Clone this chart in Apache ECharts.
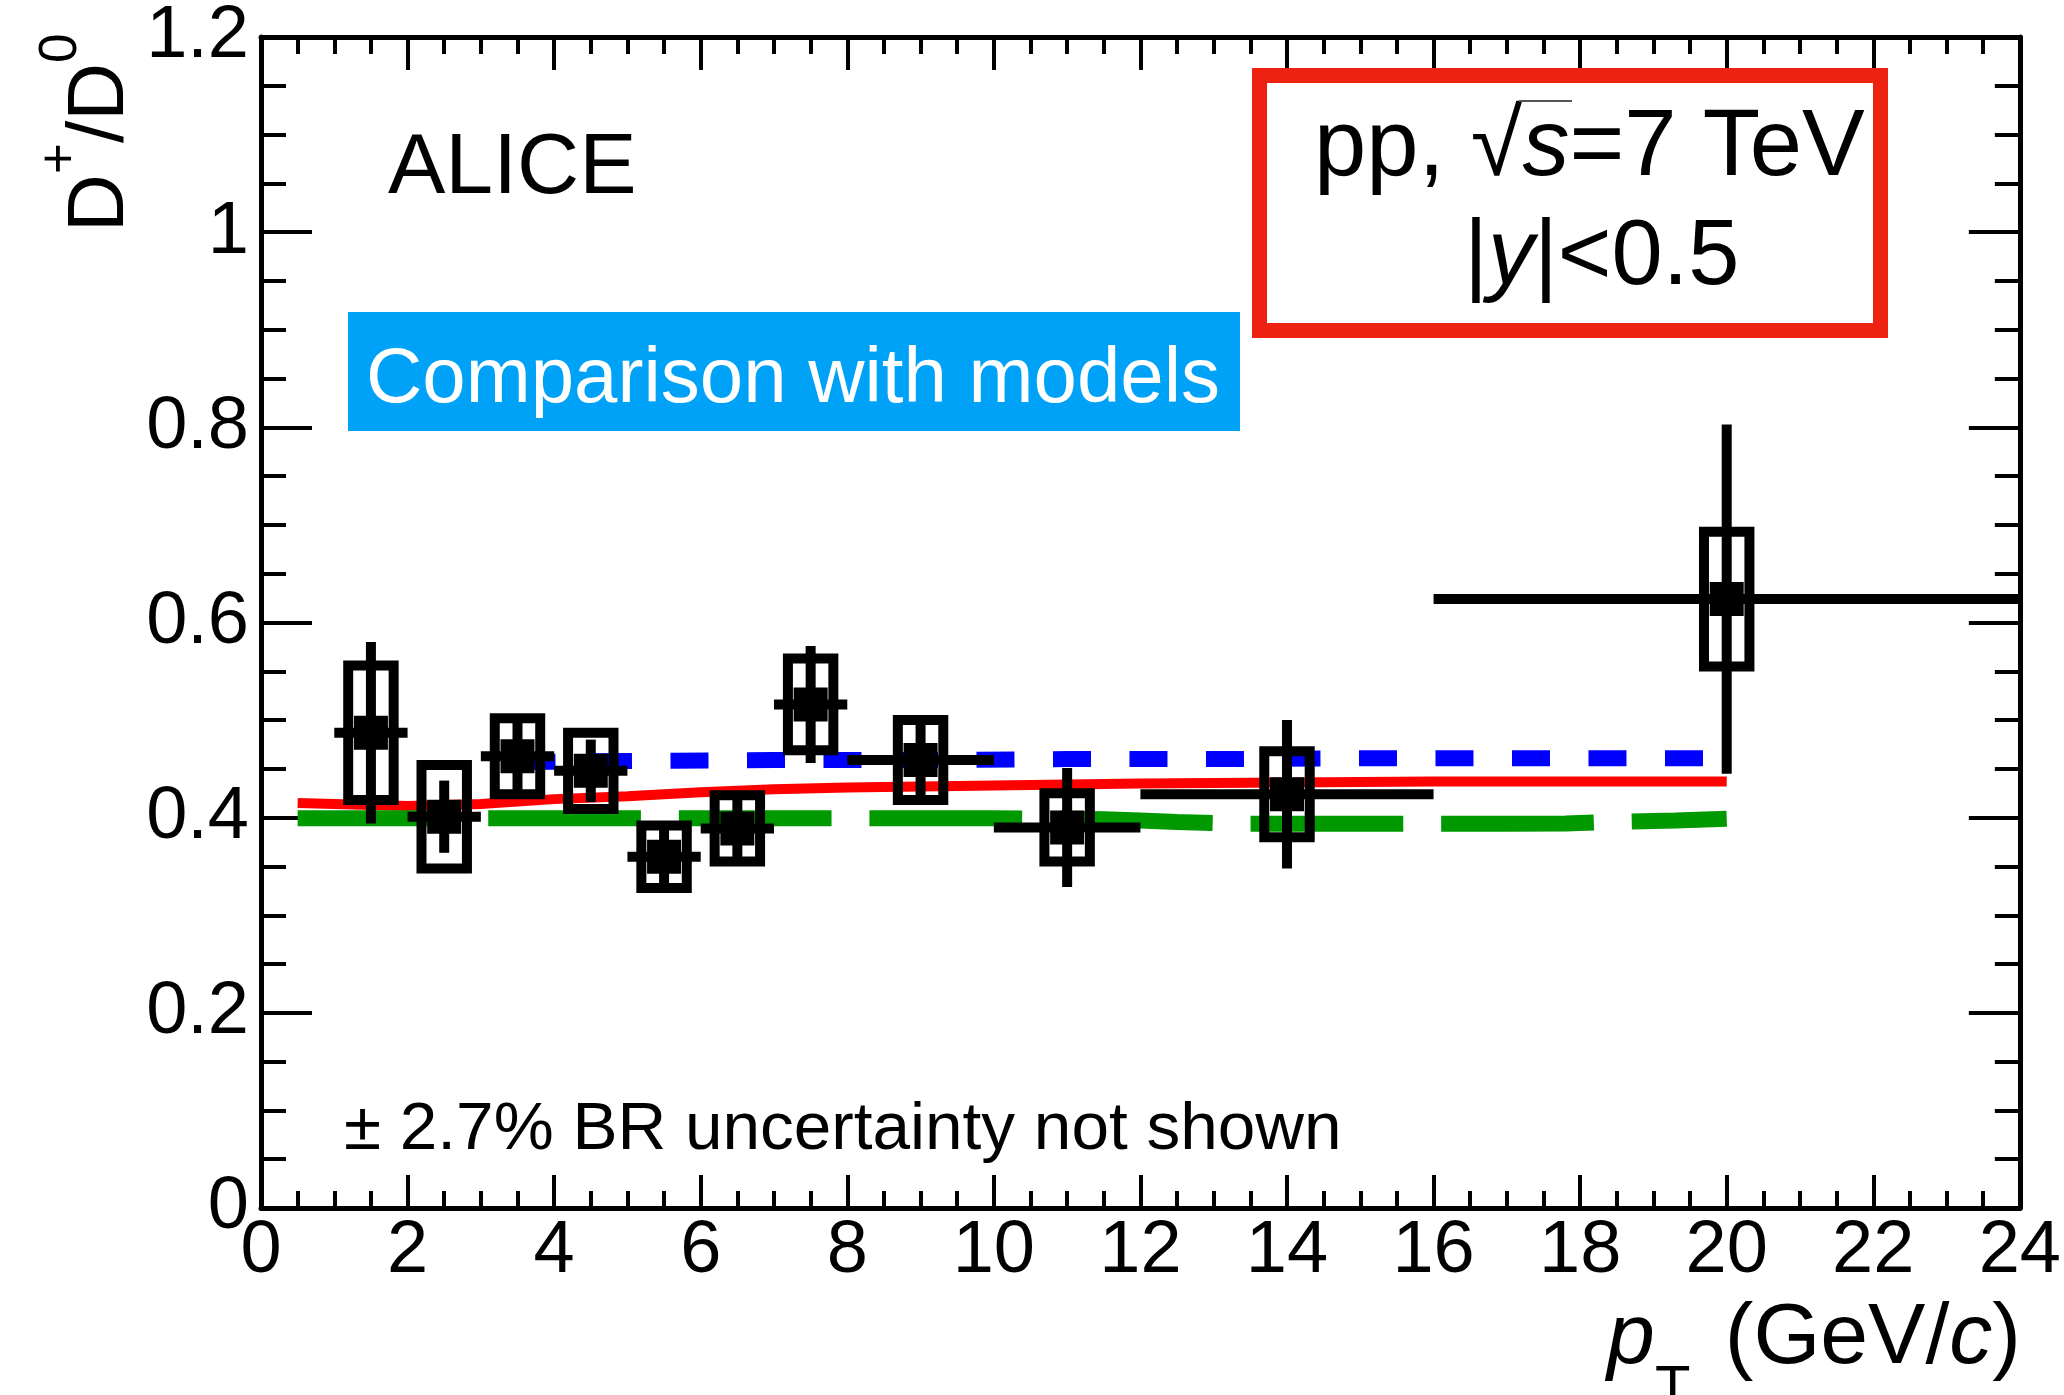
<!DOCTYPE html>
<html><head><meta charset="utf-8">
<script src="https://cdn.jsdelivr.net/npm/echarts@6/dist/echarts.min.js"></script>
<style>html,body{margin:0;padding:0;background:#fff}#c{width:2064px;height:1395px}</style>
</head><body><div id="c"></div>
<script>
// ---------- data ----------
const ptCenter = [1.5, 2.5, 3.5, 4.5, 5.5, 6.5, 7.5, 9, 11, 14, 20];
const ptLow    = [1, 2, 3, 4, 5, 6, 7, 8, 10, 12, 16];
const ptHigh   = [2, 3, 4, 5, 6, 7, 8, 10, 12, 16, 24];
const ratio    = [0.487, 0.401, 0.463, 0.448, 0.360, 0.389, 0.516, 0.459, 0.390, 0.424, 0.624];
const statErr  = [0.093, 0.037, 0.038, 0.032, 0.031, 0.033, 0.060, 0.046, 0.061, 0.076, 0.179];
const sysErr   = [0.069, 0.053, 0.039, 0.039, 0.032, 0.034, 0.047, 0.041, 0.035, 0.044, 0.069];

const redPt  = [0.5, 1, 1.5, 2, 3, 4, 5, 6, 7, 8, 9, 10, 12, 14, 16, 18, 20];
const redY   = [0.415, 0.414, 0.413, 0.412, 0.414, 0.419, 0.422, 0.426, 0.429, 0.431, 0.432, 0.433, 0.435, 0.436, 0.437, 0.437, 0.437];
const bluePt = [3.5, 5, 7, 9, 11, 13, 15, 17, 19, 20];
const blueY  = [0.457, 0.458, 0.459, 0.459, 0.460, 0.460, 0.461, 0.461, 0.461, 0.461];
const greenPt = [0.5, 2, 4, 6, 8, 10, 11, 11.5, 12, 12.5, 13, 13.5, 15, 17, 17.8, 18.2, 18.7, 19.3, 20];
const greenY  = [0.3993, 0.3993, 0.3993, 0.3993, 0.3993, 0.3993, 0.399, 0.3985, 0.397, 0.3955, 0.3945, 0.3937, 0.3937, 0.3937, 0.394, 0.3952, 0.396, 0.397, 0.3988];

const xTicks = [0, 2, 4, 6, 8, 10, 12, 14, 16, 18, 20, 22, 24];
const yTicks = [0, 0.2, 0.4, 0.6, 0.8, 1, 1.2];

// ---------- styling ----------
const FONT = "'Liberation Sans', Arial, Helvetica, sans-serif";
const BOX_HW = 0.31; // half width of systematic boxes in pT units

const chart = echarts.init(document.getElementById('c'), null, {renderer: 'canvas'});

function axisCommon(isX, showLabel) {
  return {
    type: 'value',
    min: isX ? xTicks[0] : yTicks[0],
    max: isX ? xTicks[xTicks.length - 1] : yTicks[yTicks.length - 1],
    interval: isX ? (xTicks[1] - xTicks[0]) : (yTicks[1] - yTicks[0]),
    axisLine: {show: true, onZero: false, lineStyle: {color: '#000', width: 5}},
    axisTick: {show: true, inside: true, length: isX ? 33 : 51, lineStyle: {color: '#000', width: 4}},
    minorTick: {show: true, splitNumber: 4, length: isX ? 17 : 25, lineStyle: {color: '#000', width: 4}},
    splitLine: {show: false},
    minorSplitLine: {show: false},
    axisLabel: {
      show: showLabel, color: '#000', fontFamily: FONT, fontSize: 74,
      margin: isX ? 7 : 12, showMinLabel: true, showMaxLabel: true,
      padding: isX ? 0 : [10, 0, 0, 0]
    }
  };
}

const xMain = Object.assign(axisCommon(true, true), {position: 'bottom'});
const xTop = Object.assign(axisCommon(true, false), {position: 'top'});
const yMain = Object.assign(axisCommon(false, true), {position: 'left'});
const yRight = Object.assign(axisCommon(false, false), {position: 'right'});

function pairs(xs, ys) { return xs.map((x, i) => [x, ys[i]]); }

function T(x, y, text, size, extra) {
  return {
    type: 'text', x: x, y: y, z: 100,
    style: Object.assign({
      text: text, fontSize: size, fontFamily: FONT, fill: '#000',
      align: 'left', verticalAlign: 'middle', textAlign: 'left', textVerticalAlign: 'middle'
    }, extra || {})
  };
}
// baseline -> middle y
function mid(baseline, size) { return baseline - 0.28 * size; }

const graphics = [
  // ALICE
  T(388, mid(193, 86), 'ALICE', 86),
  // blue label box
  {type: 'rect', z: 90, shape: {x: 348, y: 312, width: 892, height: 119}, style: {fill: '#00a2f7'}},
  T(366, mid(402, 78), 'Comparison with models', 78, {fill: '#fff'}),
  // red box
  {type: 'rect', z: 90, shape: {x: 1259.5, y: 75.5, width: 621, height: 255}, style: {fill: '#fff', stroke: '#ee2211', lineWidth: 15}},
  T(1314, mid(175, 94), '{a|pp, }{a|\u221A}{i|s}{a|=7 TeV}', 94, {
    rich: {
      a: {fontSize: 94, fontFamily: FONT, fill: '#000'},
      i: {fontSize: 94, fontFamily: FONT, fontStyle: 'italic', fill: '#000'}
    }
  }),
  {type: 'line', z: 101, shape: {x1: 1519, y1: 101, x2: 1572, y2: 101}, style: {stroke: '#555', lineWidth: 2}},
  T(1464, mid(284, 92), '{a||}{i|y}{a||<0.5}', 92, {
    rich: {
      a: {fontSize: 92, fontFamily: FONT, fill: '#000'},
      i: {fontSize: 92, fontFamily: FONT, fontStyle: 'italic', fill: '#000'}
    }
  }),
  // BR note
  T(344, mid(1149, 67.5), '\u00B1 2.7% BR uncertainty not shown', 67.5),
  // x title
  T(1607, mid(1363, 86), 'p', 86, {fontStyle: 'italic'}),
  T(1655, mid(1406, 58), 'T', 58),
  T(2021, mid(1363, 86), '{a|(GeV/}{i|c}{a|)}', 86, {
    align: 'right', textAlign: 'right',
    rich: {
      a: {fontSize: 86, fontFamily: FONT, fill: '#000'},
      i: {fontSize: 86, fontFamily: FONT, fontStyle: 'italic', fill: '#000'}
    }
  }),
  // y title (rotated)
  {
    type: 'group', x: 123, y: 232, rotation: Math.PI / 2, z: 100,
    children: [
      T(0, -0.28 * 80, 'D', 80),
      T(58, -47 - 0.28 * 53, '+', 53),
      T(89, -0.28 * 80, '/D', 80),
      T(169, -47 - 0.28 * 53, '0', 53)
    ]
  }
];

const option = {
  backgroundColor: '#fff',
  animation: false,
  grid: {left: 261, top: 35, right: 41, bottom: 187, containLabel: false},
  xAxis: [xMain, xTop],
  yAxis: [yMain, yRight],
  graphic: graphics,
  series: [
    {
      type: 'line', name: 'red', data: pairs(redPt, redY), xAxisIndex: 0, yAxisIndex: 0,
      showSymbol: false, symbol: 'none', z: 3,
      lineStyle: {color: '#ff0000', width: 10, cap: 'butt'}
    },
    {
      type: 'line', name: 'blue', data: pairs(bluePt, blueY), xAxisIndex: 0, yAxisIndex: 0,
      showSymbol: false, symbol: 'none', z: 3,
      lineStyle: {color: '#0000ff', width: 16, type: [38, 38.5], cap: 'butt'}
    },
    {
      type: 'line', name: 'green', data: pairs(greenPt, greenY), xAxisIndex: 0, yAxisIndex: 0,
      showSymbol: false, symbol: 'none', z: 3,
      lineStyle: {color: '#009900', width: 16, type: [152.7, 37.9], cap: 'butt'}
    },
    {
      type: 'custom', name: 'data', xAxisIndex: 0, yAxisIndex: 0, z: 10, clip: false,
      data: ptCenter.map((x, i) => [x, ratio[i], ptLow[i], ptHigh[i], statErr[i], sysErr[i]]),
      encode: {x: 0, y: 1},
      renderItem: function (params, api) {
        const x = api.value(0), y = api.value(1), xl = api.value(2), xh = api.value(3);
        const st = api.value(4), sy = api.value(5);
        const pL = api.coord([xl, y]), pH = api.coord([xh, y]);
        const sT = api.coord([x, y + st]), sB = api.coord([x, y - st]);
        const b1 = api.coord([x - BOX_HW, y + sy]), b2 = api.coord([x + BOX_HW, y - sy]);
        const c = api.coord([x, y]);
        const blk = {stroke: '#000', lineWidth: 10, fill: 'none'};
        return {
          type: 'group', children: [
            {type: 'line', shape: {x1: pL[0], y1: pL[1], x2: pH[0], y2: pH[1]}, style: blk},
            {type: 'line', shape: {x1: sT[0], y1: sT[1], x2: sB[0], y2: sB[1]}, style: blk},
            {type: 'rect', shape: {x: b1[0], y: b1[1], width: b2[0] - b1[0], height: b2[1] - b1[1]}, style: blk},
            {type: 'rect', shape: {x: c[0] - 17, y: c[1] - 17, width: 34, height: 34}, style: {fill: '#000'}}
          ]
        };
      }
    }
  ]
};
chart.setOption(option);
</script>
</body></html>
